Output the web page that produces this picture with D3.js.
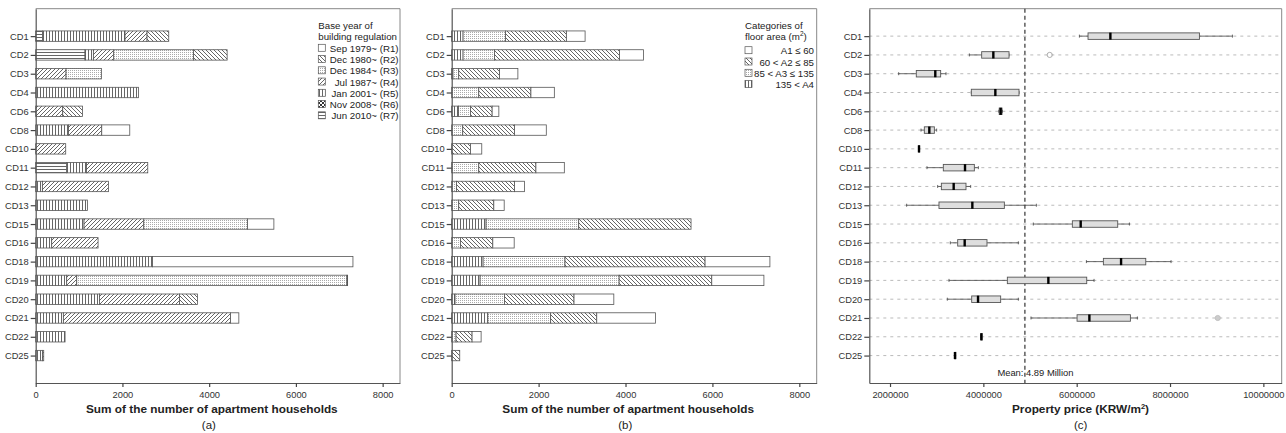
<!DOCTYPE html>
<html>
<head>
<meta charset="utf-8">
<script src="https://cdn.jsdelivr.net/npm/d3@7"></script>
<style>
  body { margin: 0; background: #fff; }
  svg { display: block; font-family: "Liberation Sans", Arial, sans-serif; }
</style>
</head>
<body>
<svg id="chart" width="1286" height="433"></svg>
<script>
// ---------------- DATA ----------------
const districts = ["CD1","CD2","CD3","CD4","CD6","CD8","CD10","CD11","CD12","CD13","CD15","CD16","CD18","CD19","CD20","CD21","CD22","CD25"];

// Panel (a): base year of building regulation (households)
const regR1 = [0,0,0,0,0,646,0,0,0,0,608,0,4623,0,0,192,0,0];
const regR2 = [500,777,0,0,454,0,0,0,0,0,0,0,0,16,415,0,0,0];
const regR3 = [0,1838,815,0,0,0,0,0,0,0,2392,0,0,6230,0,0,0,0];
const regR4 = [508,469,700,0,623,769,692,1415,1523,0,1377,1069,0,231,1846,3854,0,25];
const regR5 = [1900,192,0,2369,0,754,0,454,154,1192,1115,369,2692,715,1469,638,677,160];
const regR6 = [0,0,0,0,0,0,0,0,0,0,0,0,0,0,0,0,0,0];
const regR7 = [160,1138,0,0,0,0,0,715,0,0,0,0,0,0,0,0,0,0];
const regLabels = ["Sep 1979~ (R1)","Dec 1980~ (R2)","Dec 1984~ (R3)","Jul 1987~ (R4)","Jan 2001~ (R5)","Nov 2008~ (R6)","Jun 2010~ (R7)"];

// Panel (b): categories of floor area (households)
const areaA1 = [431,553,423,539,154,731,261,654,231,239,0,492,1492,1200,916,1354,208,0];
const areaA2 = [1400,2877,938,1200,500,1192,431,1315,1338,807,2585,746,3223,2131,1600,1061,369,185];
const areaA3 = [977,723,132,623,277,254,0,623,108,162,2131,200,1885,3200,1138,1446,100,0];
const areaA4 = [262,262,30,0,154,0,0,0,0,0,792,0,723,654,77,831,0,0];
const areaLabels = ["A1 \u2264 60","60 < A2 \u2264 85","85 < A3 \u2264 135","135 < A4"];

const hhTicks = [0,2000,4000,6000,8000];

// Panel (c): property price box plots (KRW/m2)
const priceMin    = [6058000,3700000,2185000,3742000,4330000,2664000,2610000,2792000,3021000,2356000,5071000,3292000,6208000,3264000,3228000,5021000,3950000,3385000];
const priceQ1     = [6243000,3964000,2563000,3742000,4340000,2735000,2612000,3142000,3100000,3049000,5907000,3450000,6572000,4514000,3750000,6008000,3952000,3388000];
const priceMedian = [6722000,4214000,2970000,4257000,4371000,2842000,2621000,3607000,3364000,3764000,6086000,3600000,6951000,5393000,3886000,6272000,3957000,3392000];
const priceQ3     = [8630000,4550000,3085000,4764000,4400000,2950000,2630000,3807000,3628000,4450000,6879000,4078000,7480000,6215000,4371000,7151000,3962000,3396000];
const priceMax    = [9337000,4550000,3199000,4764000,4410000,2999000,2632000,3893000,3728000,5136000,7130000,4750000,8022000,6372000,4750000,7301000,3964000,3399000];
const outlierDistrict = ["CD2","CD21"];
const outlierValue    = [5422000,9023000];
const outlierFilled   = [false,true];
const priceMean = 4890000;
const priceTicks = [2000000,4000000,6000000,8000000,10000000];

// ---------------- DRAWING ----------------
const svg = d3.select("#chart");
const defs = svg.append("defs");
const hatch = "#555";

function pat(id, w, h, build) {
  const p = defs.append("pattern").attr("id", id).attr("patternUnits", "userSpaceOnUse")
    .attr("width", w).attr("height", h);
  p.append("rect").attr("width", w).attr("height", h).attr("fill", "#fff");
  build(p);
}
pat("pWhite", 4, 4, p => {});
pat("pBack", 4, 4, p => p.append("path").attr("d", "M-1,3 l2,2 M0,0 l4,4 M3,-1 l2,2").attr("stroke", hatch).attr("stroke-width", 0.9));
pat("pDots", 2, 2, p => { p.append("rect").attr("x",0).attr("y",0).attr("width",1).attr("height",1).attr("fill","#aaa"); });
pat("pFwd", 4, 4, p => p.append("path").attr("d", "M-1,1 l2,-2 M0,4 l4,-4 M3,5 l2,-2").attr("stroke", hatch).attr("stroke-width", 0.9));
pat("pVert", 3, 3, p => p.append("line").attr("x1",1.5).attr("x2",1.5).attr("y1",0).attr("y2",3).attr("stroke", hatch).attr("stroke-width", 0.9));
pat("pCheck", 4, 4, p => { p.append("rect").attr("width",2).attr("height",2).attr("fill","#333"); p.append("rect").attr("x",2).attr("y",2).attr("width",2).attr("height",2).attr("fill","#333"); });
pat("pHorz", 3, 3, p => p.append("line").attr("y1",1.5).attr("y2",1.5).attr("x1",0).attr("x2",3).attr("stroke", hatch).attr("stroke-width", 0.9));

const plotTop = 8.7, plotBottom = 383;
const y = d3.scalePoint().domain(districts).range([plotTop, plotBottom]).padding(1.46);
const barH = 10.4;

function styleAxis(g) {
  g.selectAll("path.domain").attr("stroke", "#555").attr("stroke-width", 1.2);
  g.selectAll(".tick line").attr("stroke", "#444").attr("stroke-width", 1.2);
  g.selectAll(".tick text").attr("fill", "#333").attr("font-size", 9.3).attr("font-family", "Liberation Sans, Arial, sans-serif");
}

function frame(left, right) {
  svg.append("path").attr("d", `M${left},${plotTop}H${right}V${plotBottom}`)
    .attr("fill", "none").attr("stroke", "#888").attr("stroke-width", 1);
}

function stackedPanel(left, right, seriesList, fills, legendTitle, legendLabels, legendFills, legendX, legendTextRight, legendY0, legendStep, letter) {
  const x = d3.scaleLinear().domain([0, 8400]).range([left, right]);
  frame(left, right);
  const rows = districts.map((d, i) => {
    const o = { district: d };
    seriesList.forEach((s, k) => o["s" + k] = s[i]);
    return o;
  });
  const keys = seriesList.map((s, k) => "s" + k);
  const stacked = d3.stack().keys(keys)(rows);
  stacked.forEach((layer, k) => {
    svg.append("g").selectAll("rect").data(layer.filter(d => d[1] - d[0] > 0)).join("rect")
      .attr("x", d => x(d[0]))
      .attr("width", d => x(d[1]) - x(d[0]))
      .attr("y", d => y(d.data.district) - barH / 2)
      .attr("height", barH)
      .attr("fill", fills[k])
      .attr("stroke", "#555").attr("stroke-width", 0.8);
  });
  const gy = svg.append("g").attr("transform", `translate(${left},0)`)
    .call(d3.axisLeft(y).tickSize(5).tickSizeOuter(0).tickPadding(2));
  styleAxis(gy);
  const gx = svg.append("g").attr("transform", `translate(0,${plotBottom})`)
    .call(d3.axisBottom(x).tickValues(hhTicks).tickFormat(d3.format("d")).tickSize(4).tickSizeOuter(0).tickPadding(4));
  styleAxis(gx);

  svg.append("text").attr("x", (left + right) / 2 - 6).attr("y", 413)
    .attr("text-anchor", "middle").attr("font-weight", "bold").attr("font-size", 11.8).attr("fill", "#222")
    .text("Sum of the number of apartment households");
  svg.append("text").attr("x", (left + right) / 2 - 9).attr("y", 428.5)
    .attr("text-anchor", "middle").attr("font-size", 11.5).attr("fill", "#222").text(letter);

  // legend
  const lg = svg.append("g");
  legendTitle.forEach((t, i) => {
    const txt = lg.append("text").attr("x", legendX).attr("y", 28.5 + i * 11.3)
      .attr("font-size", 9.7).attr("fill", "#222");
    if (Array.isArray(t)) {
      txt.append("tspan").text(t[0]);
      txt.append("tspan").attr("font-size", 6.5).attr("dy", -3.5).text(t[1]);
      txt.append("tspan").attr("dy", 3.5).text(t[2]);
    } else txt.text(t);
  });
  legendLabels.forEach((t, i) => {
    const yy = legendY0 + i * legendStep;
    lg.append("rect").attr("x", legendX).attr("y", yy - 4).attr("width", 7).attr("height", 7)
      .attr("fill", legendFills[i]).attr("stroke", "#555").attr("stroke-width", 0.7);
    lg.append("text").attr("x", legendTextRight).attr("y", yy + 3.5).attr("text-anchor", "end")
      .attr("font-size", 9.7).attr("fill", "#222").text(t);
  });
}

// Panel (a): stack order left->right R7, R6, R5, R4, R3, R2, R1
stackedPanel(35.7, 400,
  [regR7, regR6, regR5, regR4, regR3, regR2, regR1],
  ["url(#pHorz)","url(#pCheck)","url(#pVert)","url(#pFwd)","url(#pDots)","url(#pBack)","url(#pWhite)"],
  ["Base year of", "building regulation"],
  regLabels,
  ["url(#pWhite)","url(#pBack)","url(#pDots)","url(#pFwd)","url(#pVert)","url(#pCheck)","url(#pHorz)"],
  318.3, 398.5, 48.3, 11.25, "(a)");

// Panel (b): stack order A4, A3, A2, A1
stackedPanel(451.7, 816.7,
  [areaA4, areaA3, areaA2, areaA1],
  ["url(#pVert)","url(#pDots)","url(#pBack)","url(#pWhite)"],
  ["Categories of", ["floor area (m", "2", ")"]],
  areaLabels,
  ["url(#pWhite)","url(#pBack)","url(#pDots)","url(#pVert)"],
  745, 814, 50.7, 11.3, "(b)");

// Panel (c): box plots
(function () {
  const left = 869.3, right = 1281.7;
  const x = d3.scaleLinear().domain([1556000, 10393000]).range([left, right]);
  frame(left, right);
  svg.append("g").selectAll("line").data(districts).join("line")
    .attr("x1", left).attr("x2", right)
    .attr("y1", d => y(d)).attr("y2", d => y(d))
    .attr("stroke", "#aaa").attr("stroke-width", 0.8).attr("stroke-dasharray", "3,4");
  svg.append("line").attr("x1", x(priceMean)).attr("x2", x(priceMean)).attr("y1", plotTop).attr("y2", plotBottom)
    .attr("stroke", "#444").attr("stroke-width", 1.3).attr("stroke-dasharray", "4,3");
  svg.append("text").attr("x", x(priceMean) - 27.5).attr("y", 375.5).attr("font-size", 9.4).attr("fill", "#222")
    .text("Mean: 4.89 Million");

  const bh = 6.5;
  const g = svg.append("g");
  districts.forEach((d, i) => {
    const cy = y(d);
    g.append("line").attr("x1", x(priceMin[i])).attr("x2", x(priceQ1[i])).attr("y1", cy).attr("y2", cy).attr("stroke", "#444").attr("stroke-width", 0.8);
    g.append("line").attr("x1", x(priceQ3[i])).attr("x2", x(priceMax[i])).attr("y1", cy).attr("y2", cy).attr("stroke", "#444").attr("stroke-width", 0.8);
    [priceMin[i], priceMax[i]].forEach(v => {
      g.append("line").attr("x1", x(v)).attr("x2", x(v)).attr("y1", cy - 1.5).attr("y2", cy + 1.5).attr("stroke", "#444").attr("stroke-width", 0.8);
    });
    g.append("rect").attr("x", x(priceQ1[i])).attr("width", Math.max(1, x(priceQ3[i]) - x(priceQ1[i])))
      .attr("y", cy - bh / 2).attr("height", bh)
      .attr("fill", "#dedede").attr("stroke", "#555").attr("stroke-width", 0.9);
    g.append("line").attr("x1", x(priceMedian[i])).attr("x2", x(priceMedian[i]))
      .attr("y1", cy - bh / 2 - 0.3).attr("y2", cy + bh / 2 + 0.3)
      .attr("stroke", "#000").attr("stroke-width", 2.4);
  });
  outlierDistrict.forEach((d, i) => {
    g.append("circle").attr("cx", x(outlierValue[i])).attr("cy", y(d)).attr("r", 2.6)
      .attr("fill", outlierFilled[i] ? "#ccc" : "none").attr("stroke", outlierFilled[i] ? "#bbb" : "#999").attr("stroke-width", 0.8);
  });

  const gy = svg.append("g").attr("transform", `translate(${left},0)`)
    .call(d3.axisLeft(y).tickSize(5).tickSizeOuter(0).tickPadding(2));
  styleAxis(gy);
  const gx = svg.append("g").attr("transform", `translate(0,${plotBottom})`)
    .call(d3.axisBottom(x).tickValues(priceTicks).tickFormat(d3.format("d")).tickSize(4).tickSizeOuter(0).tickPadding(4));
  styleAxis(gx);

  const t = svg.append("text").attr("x", 1080.5).attr("y", 413).attr("text-anchor", "middle")
    .attr("font-weight", "bold").attr("font-size", 11.8).attr("fill", "#222");
  t.append("tspan").text("Property price (KRW/m");
  t.append("tspan").attr("font-size", 7.5).attr("dy", -4.5).text("2");
  t.append("tspan").attr("dy", 4.5).text(")");
  svg.append("text").attr("x", 1080.7).attr("y", 428.5).attr("text-anchor", "middle")
    .attr("font-size", 11.5).attr("fill", "#222").text("(c)");
})();
</script>
</body>
</html>
